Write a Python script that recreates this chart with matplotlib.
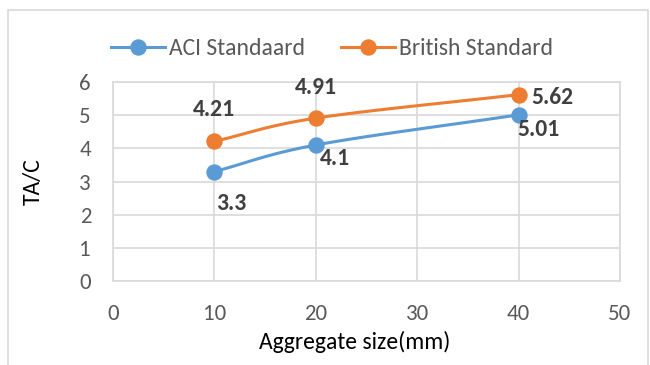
import numpy as np
import matplotlib
matplotlib.use("Agg")
import matplotlib.pyplot as plt
from matplotlib.patches import Rectangle
from matplotlib.lines import Line2D

# Data
aggregate_size = [10, 20, 40]
aci_values = [3.3, 4.1, 5.01]
british_values = [4.21, 4.91, 5.62]
series_names = ["ACI Standaard", "British Standard"]
x_ticks = [0, 10, 20, 30, 40, 50]
y_ticks = [0, 1, 2, 3, 4, 5, 6]

BLUE = "#5B9BD5"
ORANGE = "#ED7D31"
TICK_GRAY = "#595959"
LABEL_GRAY = "#404040"
GRID_GRAY = "#D9D9D9"

plt.rcParams["font.family"] = ["Carlito", "DejaVu Sans"]

fig = plt.figure(figsize=(6.5, 3.65), dpi=100)
ax = fig.add_axes([113 / 650, 1 - 281 / 365, (620 - 113) / 650, (281 - 82) / 365])
ax.set_xlim(0, 50)
ax.set_ylim(0, 6)


def smooth_path(xs, ys, sx, sy, n=40):
    """Catmull-Rom curve through the points, computed in scaled space."""
    px = np.asarray(xs, float) / sx
    py = np.asarray(ys, float) / sy
    pts = np.column_stack([px, py])
    ext = np.vstack([pts[0] - (pts[1] - pts[0]), pts, pts[-1] + (pts[-1] - pts[-2])])
    out = []
    for i in range(1, len(ext) - 2):
        p0, p1, p2, p3 = ext[i - 1], ext[i], ext[i + 1], ext[i + 2]
        t = np.linspace(0, 1, n)[:, None]
        seg = 0.5 * ((2 * p1) + (-p0 + p2) * t + (2 * p0 - 5 * p1 + 4 * p2 - p3) * t ** 2
                     + (-p0 + 3 * p1 - 3 * p2 + p3) * t ** 3)
        out.append(seg if i == 1 else seg[1:])
    out = np.vstack(out)
    return out[:, 0] * sx, out[:, 1] * sy


LW = 2.2
MS = 10.8
sx, sy = 50 / 507, 6 / 199
for vals, color in [(aci_values, BLUE), (british_values, ORANGE)]:
    cx, cy = smooth_path(aggregate_size, vals, sx, sy)
    ax.plot(cx, cy, color=color, lw=LW, solid_capstyle="round", zorder=3)
    ax.plot(aggregate_size, vals, "o", color=color, ms=MS, zorder=4)

# Value labels (offsets in points)
lab_kw = dict(fontsize=17, fontweight="bold", color=LABEL_GRAY, zorder=5,
              textcoords="offset points", va="baseline")
aci_offsets = [((1.4, -27.4), "left"), ((2.9, -14.4), "left"), ((-0.7, -15.0), "left")]
brit_offsets = [((0, 18.0), "center"), ((0, 17.3), "center"), ((9.4, -6.5), "left")]
for xv, yv, (off, ha) in zip(aggregate_size, aci_values, aci_offsets):
    ax.annotate(f"{yv:g}", (xv, yv), xytext=off, ha=ha, **lab_kw)
for xv, yv, (off, ha) in zip(aggregate_size, british_values, brit_offsets):
    ax.annotate(f"{yv:g}", (xv, yv), xytext=off, ha=ha, **lab_kw)

# Axes styling
ax.set_xticks(x_ticks)
ax.set_yticks(y_ticks)
ax.grid(True, color=GRID_GRAY, lw=1.2, zorder=0)
ax.set_axisbelow(True)
for s in ax.spines.values():
    s.set_color(GRID_GRAY)
    s.set_linewidth(1.2)
ax.tick_params(length=0, labelsize=16.5, colors=TICK_GRAY)
ax.tick_params(axis="x", pad=16.5)
ax.tick_params(axis="y", pad=15.8)

fig.text(355 / 650, 1 - 342 / 365, "Aggregate size(mm)", fontsize=17,
         color="black", ha="center", va="center")
fig.text(33 / 650, 1 - 182 / 365, "TA/C", fontsize=17, color="black",
         rotation=90, ha="center", va="center")

# Legend
handles = [Line2D([], [], color=c, lw=LW, marker="o", ms=MS) for c in (BLUE, ORANGE)]
fig.legend(handles, series_names, loc="center left", bbox_to_anchor=(111 / 650, 1 - 48.5 / 365),
           ncol=2, frameon=False, fontsize=17, labelcolor=TICK_GRAY,
           handlelength=2.29, handletextpad=0.17, columnspacing=1.52,
           borderpad=0, borderaxespad=0)

# Chart border
fig.patches.append(Rectangle((8 / 650, -0.05), 640 / 650, 1.05 - 10 / 365,
                             transform=fig.transFigure, fill=False,
                             edgecolor="#D9D9D9", lw=1.2))

fig.savefig("out.png", dpi=100)
